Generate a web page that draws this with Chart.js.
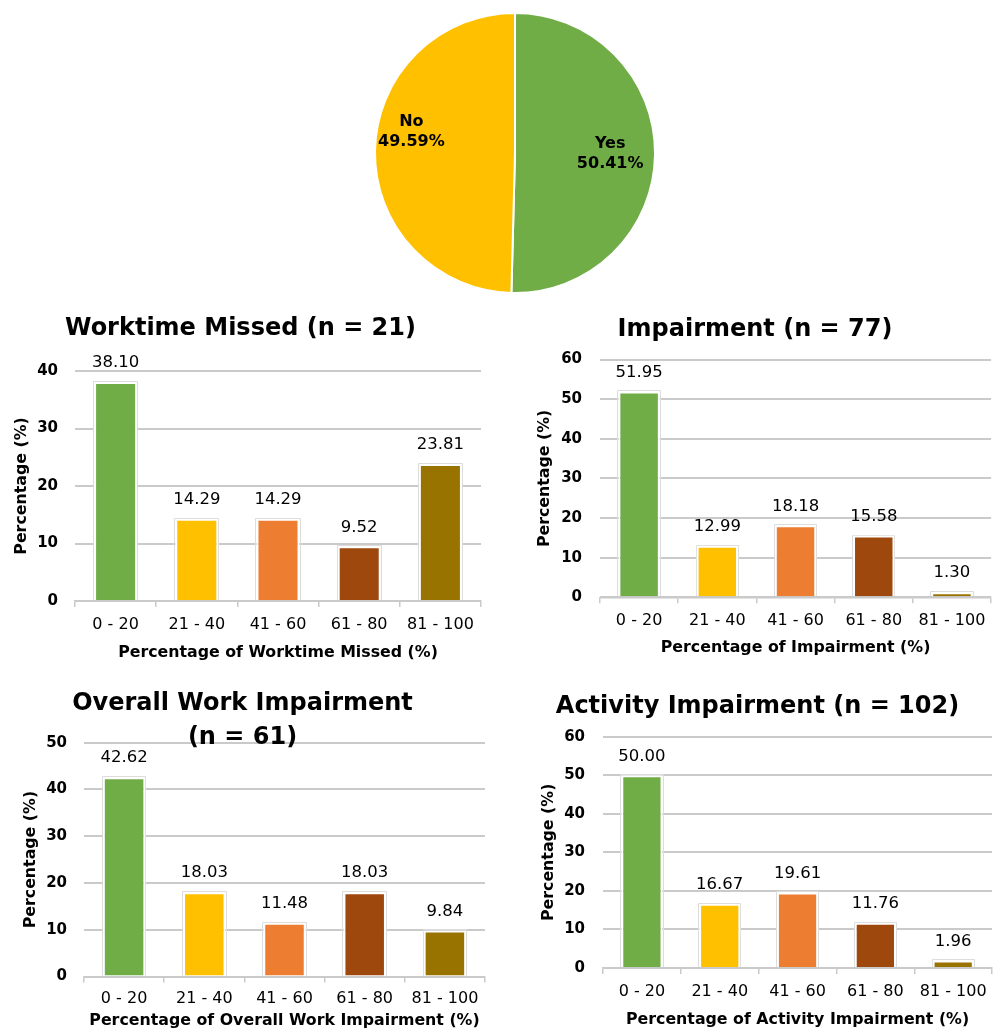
<!DOCTYPE html>
<html>
<head>
<meta charset="utf-8">
<script src="https://cdn.jsdelivr.net/npm/chart.js@4.4.1/dist/chart.umd.min.js"></script>
<style>
  html, body { margin: 0; padding: 0; background: #ffffff; }
  body { position: relative; width: 993px; height: 1030px; overflow: hidden; }
  canvas { position: absolute; display: block; }
</style>
</head>
<body>
<canvas id="pieAbsence"></canvas>
<canvas id="barWorktime"></canvas>
<canvas id="barImpairment"></canvas>
<canvas id="barOverall"></canvas>
<canvas id="barActivity"></canvas>
<script>
// ---- Data ----
const pieLabels = ['Yes', 'No'];
const pieValues = [50.41, 49.59];

const bins = ['0 - 20', '21 - 40', '41 - 60', '61 - 80', '81 - 100'];
const worktimeMissed = [38.10, 14.29, 14.29, 9.52, 23.81];
const impairment = [51.95, 12.99, 18.18, 15.58, 1.30];
const overallWorkImpairment = [42.62, 18.03, 11.48, 18.03, 9.84];
const activityImpairment = [50.00, 16.67, 19.61, 11.76, 1.96];

const worktimeAxisMax = 40;
const impairmentAxisMax = 60;
const overallAxisMax = 50;
const activityAxisMax = 60;

// ---- Styling ----
const FAMILY = '"DejaVu Sans", "Liberation Sans", sans-serif';
const binColors = ['#70AD47', '#FFC000', '#ED7D31', '#9E480E', '#997300'];
const pieColors = ['#70AD47', '#FFC000'];
const gridColor = '#cacaca';

const TITLE_SIZE = 24;
const AXIS_TITLE_SIZE = 15.8, AXIS_TITLE_LH = 1.2;
const XTICK_SIZE = 16, XTICK_LH = 1.2;
const YTICK_SIZE = 15;
const TICK_LEN = 6;

// Numeric labels above each bar, taken from the bar's own value.
const valueLabels = {
  id: 'valueLabels',
  afterDatasetsDraw(chart) {
    const ctx = chart.ctx;
    const meta = chart.getDatasetMeta(0);
    const values = chart.data.datasets[0].data;
    ctx.save();
    ctx.font = '16.5px ' + FAMILY;
    ctx.fillStyle = '#000';
    ctx.textAlign = 'center';
    ctx.textBaseline = 'middle';
    meta.data.forEach((bar, i) => {
      ctx.fillText(values[i].toFixed(2), bar.x, bar.y - 19);
    });
    ctx.restore();
  }
};

// Faint grey outline around each bar's white border.
const barOutline = {
  id: 'barOutline',
  beforeDatasetsDraw(chart) {
    const ctx = chart.ctx;
    const meta = chart.getDatasetMeta(0);
    ctx.save();
    ctx.strokeStyle = '#dcdcdc';
    ctx.lineWidth = 1;
    meta.data.forEach((bar) => {
      const p = bar.getProps(['x', 'y', 'base', 'width'], true);
      const l = Math.round(p.x - p.width / 2) - 0.5;
      const r = Math.round(p.x + p.width / 2) + 0.5;
      const t = Math.round(p.y) - 0.5;
      const b = Math.round(p.base);
      ctx.beginPath();
      ctx.moveTo(l, b);
      ctx.lineTo(l, t);
      ctx.lineTo(r, t);
      ctx.lineTo(r, b);
      ctx.stroke();
    });
    ctx.restore();
  }
};

// Category name + percentage inside each pie slice.
const sliceLabels = {
  id: 'sliceLabels',
  afterDatasetsDraw(chart, args, opts) {
    const ctx = chart.ctx;
    const meta = chart.getDatasetMeta(0);
    const values = chart.data.datasets[0].data;
    ctx.save();
    ctx.font = 'bold 16px ' + FAMILY;
    ctx.fillStyle = '#000';
    ctx.textAlign = 'center';
    ctx.textBaseline = 'middle';
    meta.data.forEach((arc, i) => {
      const p = arc.getProps(['x', 'y', 'startAngle', 'endAngle', 'outerRadius'], true);
      const mid = (p.startAngle + p.endAngle) / 2;
      const place = opts.placement[i];
      const cx = p.x + Math.cos(mid) * p.outerRadius * place.dist;
      const cy = p.y + Math.sin(mid) * p.outerRadius * place.dist + place.dy;
      ctx.fillText(chart.data.labels[i], cx, cy - 10);
      ctx.fillText(values[i].toFixed(2) + '%', cx, cy + 10);
    });
    ctx.restore();
  }
};

function placeCanvas(canvas, box) {
  canvas.width = box.right - box.left;
  canvas.height = box.bottom - box.top;
  canvas.style.left = box.left + 'px';
  canvas.style.top = box.top + 'px';
  canvas.style.width = canvas.width + 'px';
  canvas.style.height = canvas.height + 'px';
}

// ---- Pie ----
(function () {
  const canvas = document.getElementById('pieAbsence');
  placeCanvas(canvas, { left: 365, top: 3, right: 665, bottom: 303 });
  new Chart(canvas, {
    type: 'pie',
    data: {
      labels: pieLabels,
      datasets: [{
        data: pieValues,
        backgroundColor: pieColors,
        borderColor: '#ffffff',
        borderWidth: 2
      }]
    },
    options: {
      responsive: false,
      animation: false,
      layout: { padding: 9 },
      plugins: {
        legend: { display: false },
        tooltip: { enabled: false },
        sliceLabels: { placement: [{ dist: 0.68, dy: 0 }, { dist: 0.74, dy: -20 }] }
      }
    },
    plugins: [sliceLabels]
  });
})();

// ---- Bar panels ----
function barPanel(id, values, axisMax, title, xTitle, g) {
  const canvas = document.getElementById(id);
  placeCanvas(canvas, g.box);
  const lines = Array.isArray(title) ? title.length : 1;
  const titleLHpx = g.titleLineHeight || TITLE_SIZE * 1.2;
  const titlePadTop = g.titleY - g.box.top - titleLHpx / 2;
  const titlePadBottom = (g.area.top - g.box.top) - titlePadTop - lines * titleLHpx;
  const axisHalf = AXIS_TITLE_SIZE * AXIS_TITLE_LH / 2;
  const xTickHalf = XTICK_SIZE * XTICK_LH / 2;

  new Chart(canvas, {
    type: 'bar',
    data: {
      labels: bins,
      datasets: [{
        data: values,
        backgroundColor: binColors,
        borderColor: '#ffffff',
        borderWidth: 2,
        categoryPercentage: 1,
        barPercentage: 0.53
      }]
    },
    options: {
      responsive: false,
      animation: false,
      layout: { padding: { left: 0, top: 0, bottom: 0, right: g.box.right - g.area.right } },
      plugins: {
        legend: { display: false },
        tooltip: { enabled: false },
        title: {
          display: true,
          text: title,
          color: '#000',
          font: { family: FAMILY, size: TITLE_SIZE, weight: 'bold', lineHeight: titleLHpx / TITLE_SIZE },
          padding: { top: titlePadTop, bottom: titlePadBottom }
        }
      },
      scales: {
        x: {
          grid: {
            display: true,
            drawOnChartArea: false,
            drawTicks: true,
            tickLength: TICK_LEN,
            color: gridColor,
            lineWidth: 1.5
          },
          border: { display: true, color: gridColor, width: 1.5 },
          ticks: {
            color: '#000',
            font: { family: FAMILY, size: XTICK_SIZE, lineHeight: XTICK_LH },
            padding: g.xTickY - g.area.bottom - TICK_LEN - xTickHalf,
            maxRotation: 0,
            autoSkip: false
          },
          title: {
            display: true,
            text: xTitle,
            color: '#000',
            font: { family: FAMILY, size: AXIS_TITLE_SIZE, weight: 'bold', lineHeight: AXIS_TITLE_LH },
            padding: { top: 0, bottom: g.box.bottom - g.xTitleY - axisHalf }
          },
          afterFit(scale) { scale.height = g.box.bottom - g.area.bottom; }
        },
        y: {
          min: 0,
          max: axisMax,
          grid: { color: gridColor, lineWidth: 2, drawTicks: false },
          border: { display: false },
          ticks: {
            stepSize: 10,
            color: '#000',
            font: { family: FAMILY, size: YTICK_SIZE, weight: 'bold' },
            padding: g.area.left - g.yTickRight
          },
          title: {
            display: true,
            text: 'Percentage (%)',
            color: '#000',
            font: { family: FAMILY, size: AXIS_TITLE_SIZE, weight: 'bold', lineHeight: AXIS_TITLE_LH },
            padding: { top: g.yTitleX - g.box.left - axisHalf, bottom: 0 }
          },
          afterFit(scale) { scale.width = g.area.left - g.box.left; }
        }
      }
    },
    plugins: [barOutline, valueLabels]
  });
}

barPanel('barWorktime', worktimeMissed, worktimeAxisMax,
  'Worktime Missed (n = 21)', 'Percentage of Worktime Missed (%)', {
    box: { left: 0, top: 300, right: 485, bottom: 670 },
    area: { left: 75, top: 371, right: 481, bottom: 601 },
    titleY: 329, yTitleX: 22, yTickRight: 58, xTickY: 624.5, xTitleY: 652.5
  });

barPanel('barImpairment', impairment, impairmentAxisMax,
  'Impairment (n = 77)', 'Percentage of Impairment (%)', {
    box: { left: 517, top: 300, right: 993, bottom: 665 },
    area: { left: 600, top: 359.5, right: 993, bottom: 597.3 },
    titleY: 330, yTitleX: 545, yTickRight: 582, xTickY: 620.5, xTitleY: 647.5
  });

barPanel('barOverall', overallWorkImpairment, overallAxisMax,
  ['Overall Work Impairment', '(n = 61)'], 'Percentage of Overall Work Impairment (%)', {
    box: { left: 0, top: 670, right: 486, bottom: 1030 },
    area: { left: 84, top: 742.7, right: 485, bottom: 976.5 },
    titleY: 704, titleLineHeight: 33.5, yTitleX: 30.5, yTickRight: 67, xTickY: 999, xTitleY: 1020.5
  });

barPanel('barActivity', activityImpairment, activityAxisMax,
  'Activity Impairment (n = 102)', 'Percentage of Activity Impairment (%)', {
    box: { left: 520, top: 675, right: 995, bottom: 1030 },
    area: { left: 603, top: 736.7, right: 995, bottom: 968 },
    titleY: 707, yTitleX: 549, yTickRight: 585, xTickY: 992, xTitleY: 1020
  });
</script>
</body>
</html>
